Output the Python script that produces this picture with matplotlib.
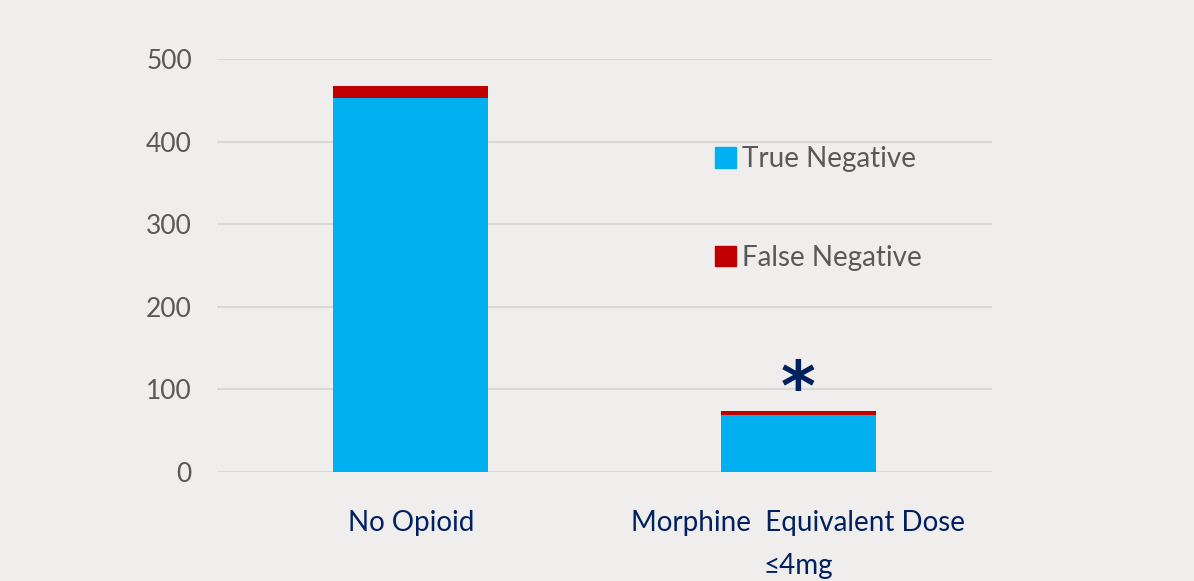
import matplotlib
matplotlib.use("Agg")
import matplotlib.pyplot as plt
from matplotlib.patches import Patch

categories = ["No Opioid", "Morphine  Equivalent Dose\n≤4mg"]
true_negative = [453, 69]
false_negative = [14, 5]
yticks = [0, 100, 200, 300, 400, 500]

bg = "#efeeed"
blue = "#00b0f0"
red = "#c00000"
gray_text = "#595959"
navy = "#002060"

plt.rcParams['font.family'] = ['Lato', 'DejaVu Sans']

fig = plt.figure(figsize=(11.94, 5.81), dpi=100, facecolor=bg)
ax = fig.add_axes([0.1817, 0.1876, 0.6491, 0.7109], facecolor=bg)

x = list(range(len(categories)))
ax.bar(x, true_negative, width=0.4, color=blue, zorder=3)
ax.bar(x, false_negative, width=0.4, bottom=true_negative, color=red, zorder=3)

ax.set_xlim(-0.5, 1.5)
ax.set_ylim(0, 500)
ax.set_yticks(yticks)
ax.set_yticklabels([str(v) for v in yticks], fontsize=19, color=gray_text)
ax.set_xticks(x)
ax.set_xticklabels(categories, fontsize=20, color=navy, linespacing=1.85)
ax.tick_params(axis='y', length=0, pad=18)
ax.tick_params(axis='x', length=0, pad=27)
for s in ax.spines.values():
    s.set_visible(False)
ax.yaxis.grid(True, color="#d9d9d9", linewidth=1.5, zorder=0)
ax.set_axisbelow(True)

# significance marker
ax.text(1, 74 - 16, "*", ha='center', va='bottom', fontsize=48, fontweight='bold',
        color=navy, family='DejaVu Sans')

handles = [Patch(color=blue, label="True Negative"), Patch(color=red, label="False Negative")]
leg = ax.legend(handles=handles, loc='upper left', bbox_to_anchor=(0.611, 0.849),
                frameon=False, fontsize=20, labelspacing=2.6, handlelength=0.75,
                handleheight=0.75, handletextpad=0.2, labelcolor=gray_text)

fig.savefig("out.png", dpi=100, facecolor=bg)
